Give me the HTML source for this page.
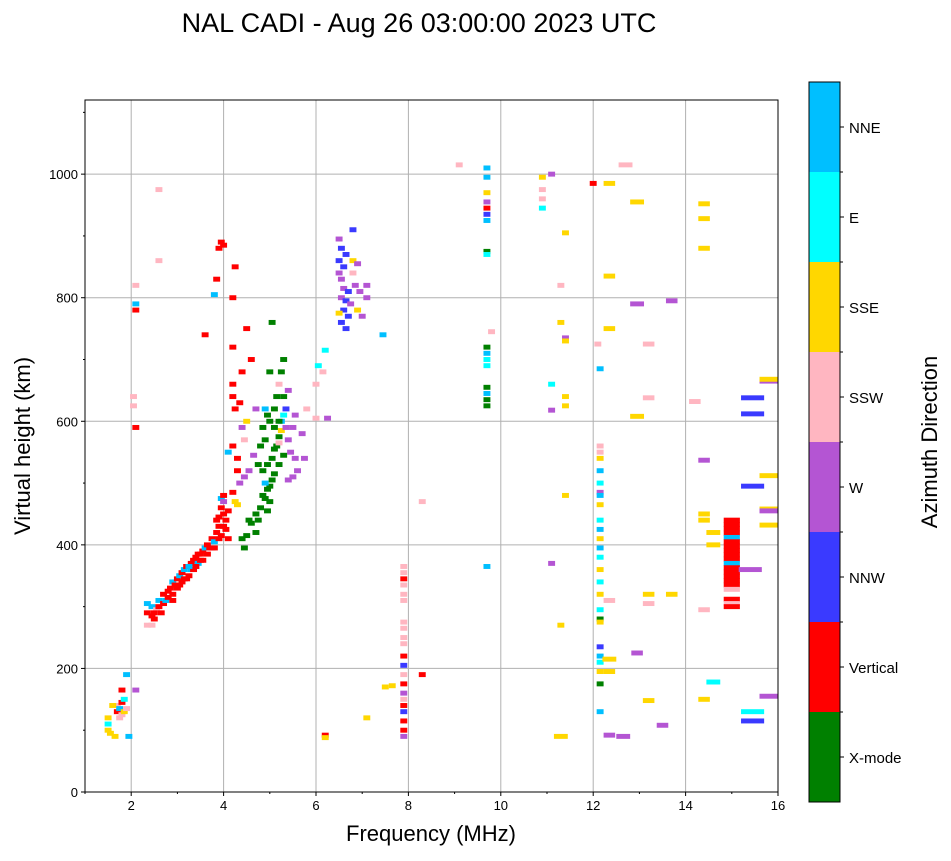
<!DOCTYPE html>
<html><head><meta charset="utf-8"><style>
body{margin:0;background:#fff;font-family:"Liberation Sans",sans-serif}
svg text{font-family:"Liberation Sans",sans-serif}
</style></head><body>
<svg id="s" width="951" height="856">
<text x="419" y="32" font-size="27" text-anchor="middle">NAL CADI - Aug 26 03:00:00 2023 UTC</text>
<g id="grid"></g>
<g id="marks"></g>
<rect x="85" y="100" width="693" height="692" fill="none" stroke="#000" stroke-width="1"/>
<g id="axes"></g>
<text x="431" y="841" font-size="22" text-anchor="middle">Frequency (MHz)</text>
<text transform="translate(30,446) rotate(-90)" font-size="22" text-anchor="middle">Virtual height (km)</text>
<g id="cbar"></g>
<text transform="translate(937,442) rotate(-90)" font-size="22" text-anchor="middle">Azimuth Direction</text>
</svg>
<script>
const xTicks=[2,4,6,8,10,12,14,16];
const yTicks=[0,200,400,600,800,1000];
const dirNames=["X-mode","Vertical","NNW","W","SSW","SSE","E","NNE"];
const dirColors=["#008000","#ff0000","#3a3aff","#b455d3","#ffb6c1","#ffd700","#00ffff","#00bfff"];
const points=[
[1.5,100,5],[1.5,110,6],[1.5,120,5],[1.55,95,5],[1.7,130,1],[1.7,140,4],[1.75,135,7],[1.8,125,4],[1.8,145,1],[1.85,130,5],[1.85,150,6],[1.6,140,5],[1.9,190,7],[1.8,165,1],[2.1,165,3],[1.65,90,5],[1.95,90,7],[1.75,120,4],[1.9,135,4],
[2.35,305,7],[2.35,290,1],[2.35,270,4],[2.45,300,7],[2.45,285,1],[2.5,280,1],[2.55,295,4],[2.6,300,1],[2.6,310,7],[2.7,305,1],[2.7,320,1],[2.75,310,7],[2.8,325,1],[2.85,330,1],[2.9,320,1],[2.9,340,7],[2.95,335,1],[3.0,345,1],[3.05,350,7],[3.1,340,1],[3.1,355,1],[3.15,360,7],[3.2,365,1],[3.25,350,1],[3.3,370,1],[3.3,360,7],[3.35,375,1],[3.4,380,1],[3.45,370,7],[3.5,385,1],[3.55,390,1],[3.6,395,7],[3.65,400,1],[3.7,395,1],[3.75,410,1],[3.8,405,7],[3.85,420,1],[3.9,430,1],[3.9,445,1],[3.95,460,1],[3.95,475,7],[4.0,480,1],[4.0,470,3],[4.05,440,1],[4.05,425,1],[4.1,410,1],[4.1,455,1],[3.95,415,1],[4.2,485,1],[4.25,470,5],[4.3,465,5],[4.35,500,3],[4.3,520,1],[3.4,365,1],[3.2,345,1],[3.0,330,1],[3.55,375,1],[3.75,395,1],[2.65,290,1],
[2.5,290,1],[2.8,315,1],[3.05,335,1],[3.15,345,1],[3.35,360,1],[3.5,375,1],[3.65,385,1],[3.8,395,1],[3.9,410,1],[4.0,430,1],[4.0,450,1],[3.85,440,1],[2.45,270,4],[2.9,310,1],[3.25,365,7],[3.45,385,1],
[4.4,410,0],[4.45,395,0],[4.5,415,0],[4.55,440,0],[4.6,435,0],[4.7,420,0],[4.7,450,0],[4.8,460,0],[4.85,480,0],[4.9,475,0],[4.95,490,0],[5.0,495,0],[5.0,470,0],[4.9,500,7],[5.05,505,0],[5.1,515,0],[4.95,530,0],[5.05,540,0],[5.1,555,0],[5.15,560,0],[5.2,565,4],[5.2,575,0],[5.25,585,5],[5.25,600,7],[5.3,610,6],[5.35,590,3],[5.35,620,2],[5.4,570,3],[5.45,550,3],[5.5,590,3],[5.55,540,3],[5.5,510,3],[5.4,505,3],[4.85,520,0],[4.75,530,0],[4.65,545,3],[4.55,520,3],[4.45,510,3],[4.3,540,1],[4.2,560,1],[4.1,550,7],[4.8,560,0],[4.9,570,0],[5.0,600,0],[5.1,620,0],[4.9,620,7],[4.95,610,0],[5.15,640,0],[5.2,660,4],[5.25,680,0],[5.3,700,0],[5.0,680,0],[4.6,700,1],[4.7,620,3],[4.5,600,5],[4.35,630,1],[4.4,680,1],[4.2,660,1],[4.2,720,1],[4.5,750,1],[5.05,760,0],[5.4,650,3],[5.55,610,3],[5.75,540,3],[5.6,520,3],[5.7,580,3],[5.8,620,4],[6.0,660,4],[6.05,690,6],[6.2,715,6],[6.15,680,4],[6.25,605,3],[6.0,605,4],[4.4,590,3],[4.45,570,4],[4.25,620,1],[4.2,640,1],
[4.75,440,0],[4.95,455,0],[5.2,530,0],[5.3,545,0],[5.2,600,0],[5.1,590,0],[5.3,640,0],[4.85,590,0],
[3.9,880,1],[3.95,890,1],[4.0,885,1],[3.85,830,1],[4.25,850,1],[3.8,805,7],[4.2,800,1],[3.6,740,1],[2.1,780,1],[2.1,790,7],[2.1,820,4],[2.05,640,4],[2.05,625,4],[2.1,590,1],[2.6,975,4],[2.6,860,4],
[6.5,895,3],[6.55,880,2],[6.65,870,2],[6.5,860,2],[6.6,850,2],[6.5,840,3],[6.55,830,3],[6.6,815,3],[6.7,810,2],[6.55,800,3],[6.65,795,2],[6.75,790,3],[6.6,780,2],[6.5,775,5],[6.7,770,2],[6.55,760,2],[6.65,750,2],[6.8,910,2],[6.8,860,5],[6.9,855,3],[6.85,820,3],[6.95,810,3],[7.1,820,3],[7.1,800,3],[6.9,780,5],[6.8,840,4],[7.45,740,7],[7.0,770,3],
[7.9,365,4],[7.9,355,4],[7.9,345,1],[7.9,335,4],[7.9,320,4],[7.9,310,4],[7.9,275,4],[7.9,265,4],[7.9,250,4],[7.9,240,4],[7.9,220,1],[7.9,205,2],[7.9,190,4],[7.9,175,1],[7.9,160,3],[7.9,150,4],[7.9,140,1],[7.9,130,2],[7.9,115,1],[7.9,100,1],[7.9,90,3],[8.3,190,1],[8.3,470,4],[7.5,170,5],[7.65,172,5],[7.1,120,5],[6.2,92,1],[6.2,88,5],
[9.7,1010,7],[9.7,995,7],[9.7,970,5],[9.7,955,3],[9.7,945,1],[9.7,935,2],[9.7,925,7],[9.7,875,0],[9.7,870,6],[9.7,720,0],[9.7,710,7],[9.7,700,6],[9.7,690,6],[9.7,655,0],[9.7,645,7],[9.7,635,0],[9.7,625,0],[9.7,365,7],[9.8,745,4],[9.1,1015,4],
[10.9,995,5],[10.9,975,4],[10.9,960,4],[10.9,945,6],[11.1,1000,3],[11.1,660,6],[11.1,618,3],[11.1,370,3],[11.3,90,5,0.3],[11.3,760,5],[11.3,820,4],[11.4,735,3],[11.4,730,5],[11.4,640,5],[11.4,625,5],[11.4,480,5],[11.3,270,5],[11.4,905,5],
[12.0,985,1],[12.1,725,4],[12.15,685,7],[12.15,560,4],[12.15,550,4],[12.15,540,5],[12.15,520,7],[12.15,500,6],[12.15,485,3],[12.15,480,7],[12.15,465,5],[12.15,440,6],[12.15,425,7],[12.15,410,5],[12.15,395,7],[12.15,380,6],[12.15,360,5],[12.15,340,6],[12.15,320,5],[12.15,295,6],[12.15,280,0],[12.15,275,5],[12.15,235,2],[12.15,220,7],[12.15,210,6],[12.15,195,5],[12.15,175,0],[12.15,130,7],
[12.35,985,5,0.25],[12.35,835,5,0.25],[12.35,750,5,0.25],[12.35,310,4,0.25],[12.35,215,5,0.3],[12.35,195,5,0.25],[12.35,92,3,0.25],[12.65,90,3,0.3],[12.7,1015,4,0.3],[12.95,955,5,0.3],[12.95,790,3,0.3],[12.95,608,5,0.3],[12.95,225,3,0.25],[13.2,725,4,0.25],[13.2,638,4,0.25],[13.2,320,5,0.25],[13.2,305,4,0.25],[13.2,148,5,0.25],[13.5,108,3,0.25],[13.7,795,3,0.25],[13.7,320,5,0.25],[14.2,632,4,0.25],
[14.4,952,5,0.25],[14.4,928,5,0.25],[14.4,880,5,0.25],[14.4,537,3,0.25],[14.4,450,5,0.25],[14.4,440,5,0.25],[14.4,295,4,0.25],[14.4,150,5,0.25],[14.6,178,6,0.3],[14.6,420,5,0.3],[14.6,400,5,0.3],
[15.0,440,1,0.35],[15.0,433,1,0.35],[15.0,426,1,0.35],[15.0,419,1,0.35],[15.0,412,7,0.35],[15.0,405,1,0.35],[15.0,398,1,0.35],[15.0,391,1,0.35],[15.0,384,1,0.35],[15.0,377,1,0.35],[15.0,370,7,0.35],[15.0,363,1,0.35],[15.0,356,1,0.35],[15.0,349,1,0.35],[15.0,342,1,0.35],[15.0,335,1,0.35],[15.0,328,4,0.35],[15.0,312,1,0.35],[15.0,305,4,0.35],[15.0,300,1,0.35],[15.4,360,3,0.5],
[15.45,638,2,0.5],[15.45,612,2,0.5],[15.45,495,2,0.5],[15.45,130,6,0.5],[15.45,115,2,0.5],[15.8,665,3,0.4],[15.8,668,5,0.4],[15.8,512,5,0.4],[15.8,458,5,0.4],[15.8,455,3,0.4],[15.8,432,5,0.4],[15.8,155,3,0.4]
];
const NS="http://www.w3.org/2000/svg";
const X0=85,X1=778,Y0=792,Y1=100,FMIN=1,FMAX=16,HMIN=0,HMAX=1120;
const xs=f=>X0+(f-FMIN)/(FMAX-FMIN)*(X1-X0);
const ys=h=>Y0-(h-HMIN)/(HMAX-HMIN)*(Y0-Y1);
function mk(tag,attrs,parent){const e=document.createElementNS(NS,tag);for(const k in attrs)e.setAttribute(k,attrs[k]);document.getElementById(parent).appendChild(e);return e;}
xTicks.forEach(t=>{
 const g=mk('line',{x1:xs(t),x2:xs(t),y1:Y1,y2:Y0,stroke:'#b0b0b0','stroke-width':1},'grid');
 
 
 const tk=mk('line',{x1:xs(t),x2:xs(t),y1:Y0,y2:Y0+4,stroke:'#000'},'axes');
 
 
 const tx=mk('text',{x:xs(t),y:Y0+18,'font-size':13,'text-anchor':'middle'},'axes');
 tx.textContent=t;
 
 
});
for(let t=1;t<16;t++){if(t%2){const m=mk('line',{x1:xs(t),x2:xs(t),y1:Y0,y2:Y0+2,stroke:'#000'},'axes');
 
 }}
yTicks.forEach(t=>{
 const g=mk('line',{x1:X0,x2:X1,y1:ys(t),y2:ys(t),stroke:'#b0b0b0','stroke-width':1},'grid');
 
 
 const tk=mk('line',{x1:X0-4,x2:X0,y1:ys(t),y2:ys(t),stroke:'#000'},'axes');
 
 
 const tx=mk('text',{x:X0-7,y:ys(t)+5,'font-size':13,'text-anchor':'end'},'axes');
 tx.textContent=t;
 
 
});
for(let t=100;t<1120;t+=200){const m=mk('line',{x1:X0-2,x2:X0,y1:ys(t),y2:ys(t),stroke:'#000'},'axes');
 
 }
points.forEach(p=>{
 const w=(p[3]||0.15),hh=8;
 const r=mk('rect',{x:xs(p[0]-w/2),y:ys(p[1]+hh/2),width:xs(p[0]+w/2)-xs(p[0]-w/2),height:ys(p[1]-hh/2)-ys(p[1]+hh/2),fill:dirColors[p[2]]},'marks');
 
 
});
const CB0=82,CB1=802,bh=(CB1-CB0)/dirNames.length;
dirNames.forEach((n,i)=>{
 const y=CB1-(i+1)*bh;
 const r=mk('rect',{x:809,y:y,width:31,height:bh,fill:dirColors[i]},'cbar');
 
 
 const tk=mk('line',{x1:840,x2:844,y1:y+bh/2,y2:y+bh/2,stroke:'#000'},'cbar');
 
 
 const t=mk('text',{x:849,y:y+bh/2+6,'font-size':15},'cbar');
 t.textContent=n;
 
 
 if(i>0){const b=mk('line',{x1:840,x2:843,y1:y+bh,y2:y+bh,stroke:'#000'},'cbar');
 
 }
});
const fr=mk('rect',{x:809,y:CB0,width:31,height:CB1-CB0,fill:'none',stroke:'#000'},'cbar');


</script>
</body></html>
